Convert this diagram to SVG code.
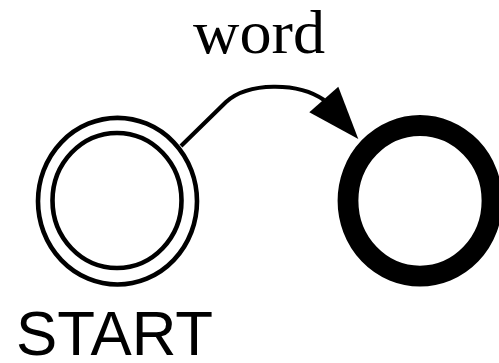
<svg xmlns="http://www.w3.org/2000/svg" width="499" height="363" viewBox="0 0 499 363">
<style>
.ring{fill:none;stroke:#000}
.lbl{fill:#000}
</style>
<rect width="499" height="363" fill="#fff"/>
<g id="connectors">
<path d="M181,146 L226,102 C248,82 298,82 324,100" fill="none" stroke="#000" stroke-width="4.2"/>
<polygon points="309.3,112.3 338.3,86.7 358.3,139" fill="#000"/>
<text x="259" y="53" class="lbl" font-family="Liberation Serif, serif" font-size="62" text-anchor="middle" textLength="132" lengthAdjust="spacingAndGlyphs">word</text>
</g>
<g id="start">
<ellipse cx="117.5" cy="201.2" rx="79.5" ry="83.3" class="ring" stroke-width="4.6"/>
<ellipse cx="117" cy="200.5" rx="64.5" ry="67.5" class="ring" stroke-width="4.6"/>
<text x="114.5" y="355" class="lbl" font-family="Liberation Sans, Arial, sans-serif" font-size="63" text-anchor="middle" textLength="197" lengthAdjust="spacingAndGlyphs">START</text>
</g>
<g id="end">
<ellipse cx="420" cy="200.8" rx="72" ry="75.3" class="ring" stroke-width="20.8"/>
</g>
</svg>
